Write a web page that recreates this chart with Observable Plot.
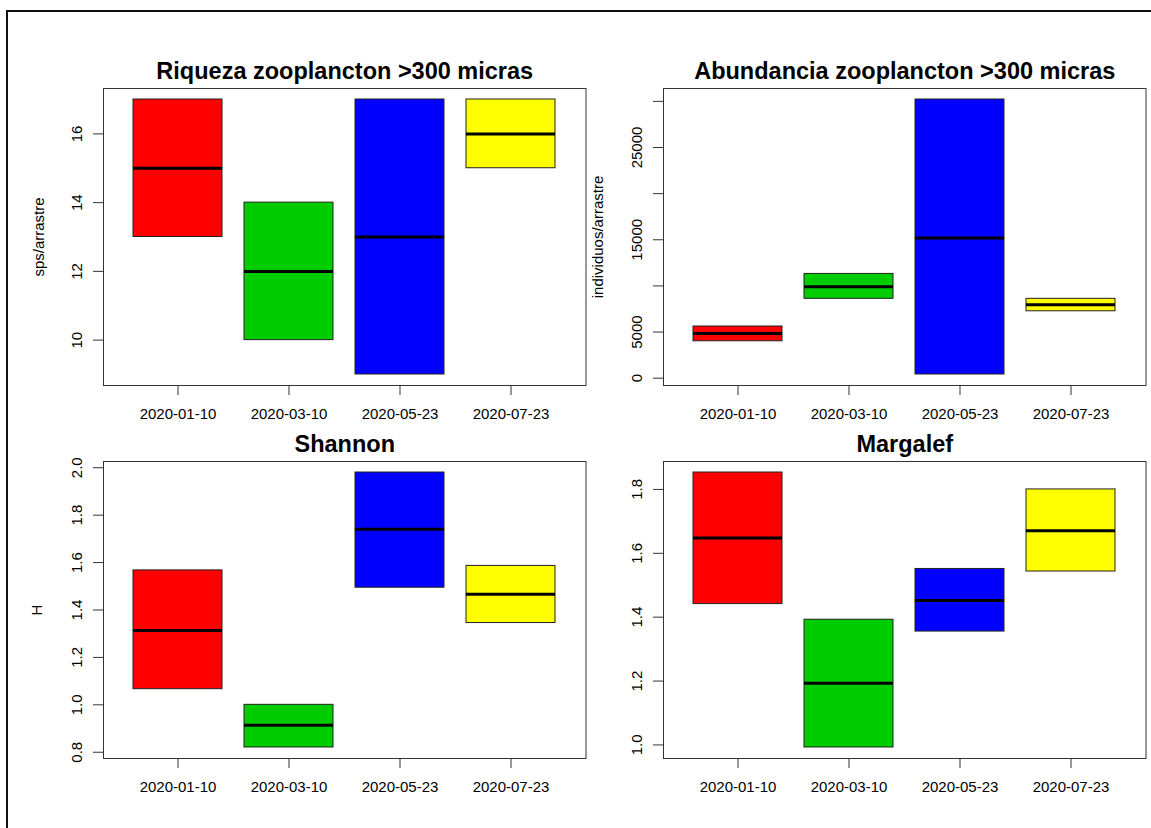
<!DOCTYPE html>
<html><head><meta charset="utf-8">
<script src="https://cdn.jsdelivr.net/npm/d3@7"></script>
<script src="https://cdn.jsdelivr.net/npm/@observablehq/plot@0.6"></script>
<style>
body{margin:0;background:#fff;}
#wrap{position:relative;width:1151px;height:828px;overflow:hidden;background:#fff;font-family:"Liberation Sans",Arial,sans-serif;}
#border{position:absolute;left:6px;top:10px;width:1300px;height:1000px;border-top:2px solid #111;border-left:2px solid #111;}
.panel{position:absolute;}
</style></head><body><div id="wrap"><div id="border"></div></div>
<script>
// Categories and colours
const dates = ["2020-01-10","2020-03-10","2020-05-23","2020-07-23"];
const colors = ["#FF0000","#00CD00","#0000FF","#FFFF00"];

// Riqueza zooplancton >300 micras (sps/arrastre)
const riquezaLo  = [13, 10, 9, 15];
const riquezaMed = [15, 12, 13, 16];
const riquezaHi  = [17, 14, 17, 17];
const riquezaTicks = [10, 12, 14, 16];
const riquezaTickLabels = ["10","12","14","16"];

// Abundancia zooplancton >300 micras (individuos/arrastre)
const abundLo  = [4000, 8600, 400, 7250];
const abundMed = [4830, 9900, 15200, 7950];
const abundHi  = [5600, 11300, 30200, 8600];
const abundTicks = [0, 5000, 10000, 15000, 20000, 25000, 30000];
const abundTickLabels = ["0","5000","","15000","","25000",""];

// Shannon (H)
const shannonLo  = [1.066, 0.82, 1.494, 1.345];
const shannonMed = [1.314, 0.914, 1.741, 1.466];
const shannonHi  = [1.567, 1.0, 1.98, 1.586];
const shannonTicks = [0.8, 1.0, 1.2, 1.4, 1.6, 1.8, 2.0];
const shannonTickLabels = ["0.8","1.0","1.2","1.4","1.6","1.8","2.0"];

// Margalef
const margalefLo  = [1.441, 0.992, 1.355, 1.543];
const margalefMed = [1.648, 1.193, 1.452, 1.671];
const margalefHi  = [1.853, 1.392, 1.551, 1.8];
const margalefTicks = [1.0, 1.2, 1.4, 1.6, 1.8];
const margalefTickLabels = ["1.0","1.2","1.4","1.6","1.8"];

const FONT = "'Liberation Sans', Arial, sans-serif";

function panel(p) {
  const data = dates.map((d, i) => ({date: d, lo: p.lo[i], med: p.med[i], hi: p.hi[i], fill: colors[i]}));
  const mn = d3.min(p.lo), mx = d3.max(p.hi), r = mx - mn;
  const fmt = d => p.labels[p.ticks.indexOf(d)];
  const marks = [
    Plot.barY(data, {x: "date", y1: "lo", y2: "hi", fill: "fill", stroke: "#222", strokeWidth: 1}),
    Plot.tickY(data, {x: "date", y: "med", stroke: "#000", strokeWidth: 3}),
    Plot.frame({stroke: "#333", strokeWidth: 1}),
    Plot.axisX({tickSize: 10, tickPadding: 12.7, stroke: "#333", fill: "#000", fontSize: 15, label: null}),
    Plot.axisY({ticks: p.ticks, tickFormat: fmt, tickSize: 10, tickPadding: 11.5, tickRotate: -90,
                stroke: "#333", fill: "#000", fontSize: 15, label: null}),
    Plot.text([p.title], {frameAnchor: "top", dy: -17.5, lineAnchor: "middle", textAnchor: "middle",
                fontWeight: "bold", fontSize: 23.5, fill: "#000"})
  ];
  if (p.ylabel) marks.push(Plot.text([p.ylabel], {frameAnchor: "left", dx: p.ylabelDx, rotate: -90,
      textAnchor: "middle", lineAnchor: "middle", fontSize: 15, fill: "#000"}));
  const svg = Plot.plot({
    width: p.width, height: p.height,
    marginLeft: p.mL, marginRight: p.mR, marginTop: p.mT, marginBottom: p.mB,
    style: {fontFamily: FONT, fontSize: "15px", background: "transparent", color: "#000", overflow: "visible"},
    x: {type: "band", domain: dates, paddingInner: 0.2, paddingOuter: 0.26, axis: null},
    y: {domain: [mn - 0.04 * r, mx + 0.04 * r], axis: null},
    color: {type: "identity"},
    marks
  });
  const div = document.createElement("div");
  div.className = "panel";
  div.style.left = p.left + "px";
  div.style.top = p.top + "px";
  div.appendChild(svg);
  document.getElementById("wrap").appendChild(div);
}

const L = {left: 0, width: 588, mL: 103, mR: 2.5};
const R = {left: 588, width: 563, mL: 75, mR: 5.5};
const T = {top: 0, height: 420, mT: 88, mB: 35};
const B = {top: 420, height: 408, mT: 41, mB: 70};

panel({...L, ...T, title: "Riqueza zooplancton >300 micras", ylabel: "sps/arrastre", ylabelDx: -64.7,
  lo: riquezaLo, med: riquezaMed, hi: riquezaHi, ticks: riquezaTicks, labels: riquezaTickLabels});
panel({...R, ...T, title: "Abundancia zooplancton >300 micras", ylabel: "individuos/arrastre", ylabelDx: -65.5,
  lo: abundLo, med: abundMed, hi: abundHi, ticks: abundTicks, labels: abundTickLabels});
panel({...L, ...B, title: "Shannon", ylabel: "H", ylabelDx: -66,
  lo: shannonLo, med: shannonMed, hi: shannonHi, ticks: shannonTicks, labels: shannonTickLabels});
panel({...R, ...B, title: "Margalef", ylabel: null,
  lo: margalefLo, med: margalefMed, hi: margalefHi, ticks: margalefTicks, labels: margalefTickLabels});
</script></body></html>
